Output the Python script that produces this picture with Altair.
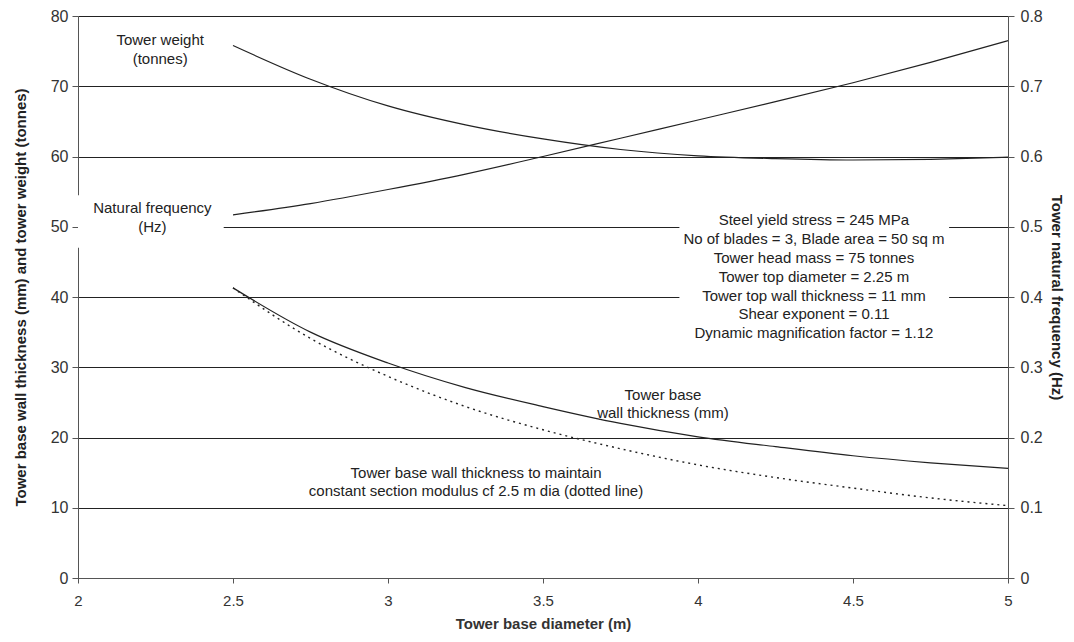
import altair as alt
import pandas as pd

diam = [2.5, 2.75, 3.0, 3.25, 3.5, 3.75, 4.0, 4.25, 4.5, 4.75, 5.0]
weight = [75.8, 71.0, 67.2, 64.5, 62.5, 61.0, 60.1, 59.7, 59.5, 59.6, 59.9]
freq = [0.517, 0.533, 0.553, 0.575, 0.600, 0.626, 0.652, 0.678, 0.705, 0.734, 0.765]
thick = [41.3, 35.0, 30.6, 27.1, 24.4, 22.0, 20.1, 18.7, 17.4, 16.4, 15.6]
dotted = [41.3, 34.1, 28.7, 24.4, 21.1, 18.4, 16.1, 14.3, 12.8, 11.4, 10.3]

x_ticks = [2, 2.5, 3, 3.5, 4, 4.5, 5]
left_ticks = [0, 10, 20, 30, 40, 50, 60, 70, 80]
right_ticks = [0, 0.1, 0.2, 0.3, 0.4, 0.5, 0.6, 0.7, 0.8]

params = [
    "Steel yield stress = 245 MPa",
    "No of blades = 3, Blade area = 50 sq m",
    "Tower head mass = 75 tonnes",
    "Tower top diameter = 2.25 m",
    "Tower top wall thickness = 11 mm",
    "Shear exponent = 0.11",
    "Dynamic magnification factor = 1.12",
]

df = pd.DataFrame({"d": diam, "w": weight, "f": freq, "t": thick, "s": dotted})

FONT = "Liberation Sans, Arial, sans-serif"
xs = alt.Scale(domain=[2, 5], nice=False, zero=False)
ys = alt.Scale(domain=[0, 80], nice=False)
yr = alt.Scale(domain=[0, 0.8], nice=False)

xax = alt.Axis(values=x_ticks, title="Tower base diameter (m)", grid=False, format="~g",
               labelFontSize=15, titleFontSize=15, titleFontWeight="bold",
               labelColor="#333", titleColor="#333", tickColor="#555",
               domainColor="#555", tickSize=5, labelPadding=10, titlePadding=8,
               labelFlush=False, labelFont=FONT, titleFont=FONT)
yax = alt.Axis(values=left_ticks, title="Tower base wall thickness (mm) and tower weight (tonnes)",
               grid=True, gridColor="#222", gridWidth=1,
               labelFontSize=16, titleFontSize=15, titleFontWeight="bold",
               labelColor="#333", titleColor="#222", tickColor="#555",
               domainColor="#555", tickSize=6, labelPadding=4, titlePadding=22,
               labelFont=FONT, titleFont=FONT)

base = alt.Chart(df)
X = alt.X("d:Q", scale=xs, axis=xax)

grid_layer = base.mark_line(opacity=0).encode(
    x=X, y=alt.Y("t:Q", scale=ys, axis=yax),
)

# white backgrounds behind annotation text (hide grid)
bg = pd.DataFrame({
    "x1": [2.0, 3.94], "x2": [2.47, 4.81],
    "y1": [47.0, 36.0], "y2": [54.5, 53.5],
})
bg_layer = alt.Chart(bg).mark_rect(color="white").encode(
    x=alt.X("x1:Q", scale=xs, axis=xax), x2="x2:Q",
    y=alt.Y("y1:Q", scale=ys, axis=yax), y2="y2:Q",
)

line_w = base.mark_line(color="#222", strokeWidth=1.2, interpolate="monotone").encode(
    x=X, y=alt.Y("w:Q", scale=ys, axis=yax))
line_t = base.mark_line(color="#222", strokeWidth=1.2, interpolate="monotone").encode(
    x=X, y=alt.Y("t:Q", scale=ys, axis=yax))
line_s = base.mark_line(color="#222", strokeWidth=1.4, strokeDash=[2, 4],
                        interpolate="monotone").encode(
    x=X, y=alt.Y("s:Q", scale=ys, axis=yax))

labels = pd.DataFrame({
    "x": [2.265, 2.24, 4.374, 3.887, 3.284],
    "y": [77.6, 53.6, 51.9, 27.1, 16.0],
    "txt": [
        "Tower weight\n(tonnes)",
        "Natural frequency\n(Hz)",
        "\n".join(params),
        "Tower base\nwall thickness (mm)",
        "Tower base wall thickness to maintain\nconstant section modulus cf 2.5 m dia (dotted line)",
    ],
})
text_layer = alt.Chart(labels).mark_text(
    font=FONT, fontSize=15, color="#222", align="center", baseline="top",
    lineBreak="\n", lineHeight=18.8,
).encode(
    x=alt.X("x:Q", scale=xs, axis=xax), y=alt.Y("y:Q", scale=ys, axis=yax), text="txt:N")

left = alt.layer(grid_layer, bg_layer, line_w, line_t, line_s, text_layer)

rax = alt.Axis(values=right_ticks, orient="right", title="Tower natural frequency (Hz)",
               grid=False, labelFontSize=16, titleFontSize=15, titleFontWeight="bold",
               labelColor="#333", titleColor="#222", tickColor="#555",
               domainColor="#555", tickSize=6, labelPadding=6, titlePadding=6,
               labelFont=FONT, titleFont=FONT, format="~g")
line_f = base.mark_line(color="#222", strokeWidth=1.2, interpolate="monotone").encode(
    x=X, y=alt.Y("f:Q", scale=yr, axis=rax))

chart = alt.layer(left, line_f).resolve_scale(y="independent").properties(
    width=930, height=562,
    autosize=alt.AutoSizeParams(type="none"),
    padding={"left": 70, "top": 8, "right": 58, "bottom": 56},
).configure_view(stroke="transparent").configure(background="white")

chart.save("out.html", embed_options={"renderer": "svg", "actions": False})
